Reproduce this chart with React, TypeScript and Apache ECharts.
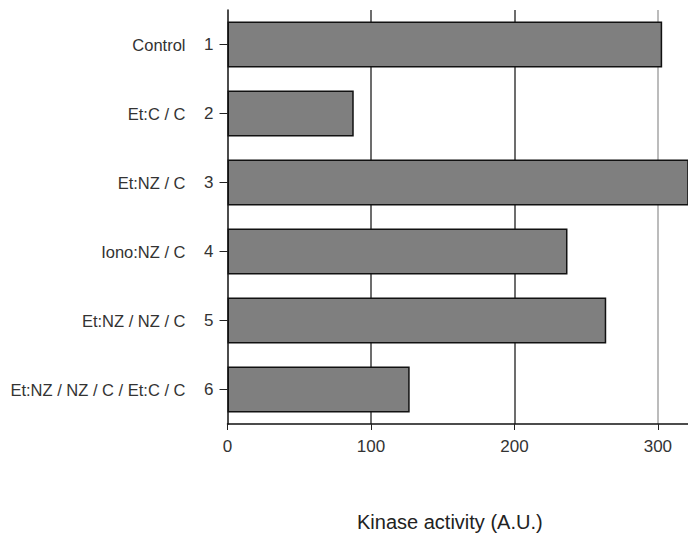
import React, { useEffect, useRef } from "react";
import * as echarts from "echarts";

const conditions = ["Control", "Et:C / C", "Et:NZ / C", "Iono:NZ / C", "Et:NZ / NZ / C", "Et:NZ / NZ / C / Et:C / C"];
const laneNumbers = ["1", "2", "3", "4", "5", "6"];
const kinaseActivity = [303, 88, 335, 237, 264, 127];
const xTicks = [0, 100, 200, 300];
const xAxisTitle = "Kinase activity (A.U.)";

const FONT = "'Liberation Sans', Arial, sans-serif";

export default function App() {
  const ref = useRef<HTMLDivElement>(null);
  useEffect(() => {
    document.body.style.margin = "0";
    const chart = echarts.init(ref.current!, null, { renderer: "svg" });
    chart.setOption({
      animation: false,
      backgroundColor: "#ffffff",
      grid: { left: 227.5, top: 10, bottom: 109, right: 0, containLabel: false },
      xAxis: {
        type: "value",
        min: 0,
        max: 321,
        interval: 100,
        axisLine: { show: true, lineStyle: { color: "#111", width: 1.5 } },
        axisTick: { show: true, length: 6, lineStyle: { color: "#222", width: 1 } },
        axisLabel: {
          margin: 14,
          fontFamily: FONT,
          fontSize: 17,
          color: "#333",
          showMaxLabel: false,
          formatter: (v: number) => (xTicks.includes(v) ? String(v) : ""),
        },
        splitLine: {
          show: true,
          lineStyle: { color: ["rgba(0,0,0,0)", "#3c3c3c", "#3c3c3c", "#a6a6a6", "rgba(0,0,0,0)"], width: 1.5 },
        },
      },
      yAxis: [
        {
          type: "category",
          data: laneNumbers,
          inverse: true,
          axisLine: { show: true, lineStyle: { color: "#111", width: 1.5 } },
          axisTick: { show: true, alignWithLabel: true, length: 8, lineStyle: { color: "#222", width: 1 } },
          axisLabel: { margin: 14, fontFamily: FONT, fontSize: 17, color: "#333" },
        },
        {
          type: "category",
          data: conditions,
          inverse: true,
          position: "left",
          axisLine: { show: false },
          axisTick: { show: false },
          axisLabel: { margin: 42, fontFamily: FONT, fontSize: 16.5, color: "#333" },
        },
      ],
      series: [
        {
          type: "bar",
          yAxisIndex: 0,
          data: kinaseActivity,
          barCategoryGap: "33%",
          itemStyle: { color: "#7f7f7f", borderColor: "#111", borderWidth: 1.5 },
        },
      ],
      graphic: [
        {
          type: "text",
          left: 449 - 92,
          top: 512,
          style: { text: xAxisTitle, fontFamily: FONT, fontSize: 20, fill: "#222" },
        },
      ],
    });
    return () => chart.dispose();
  }, []);
  return <div ref={ref} style={{ position: "absolute", left: 0, top: 0, width: 688, height: 533 }} />;
}
